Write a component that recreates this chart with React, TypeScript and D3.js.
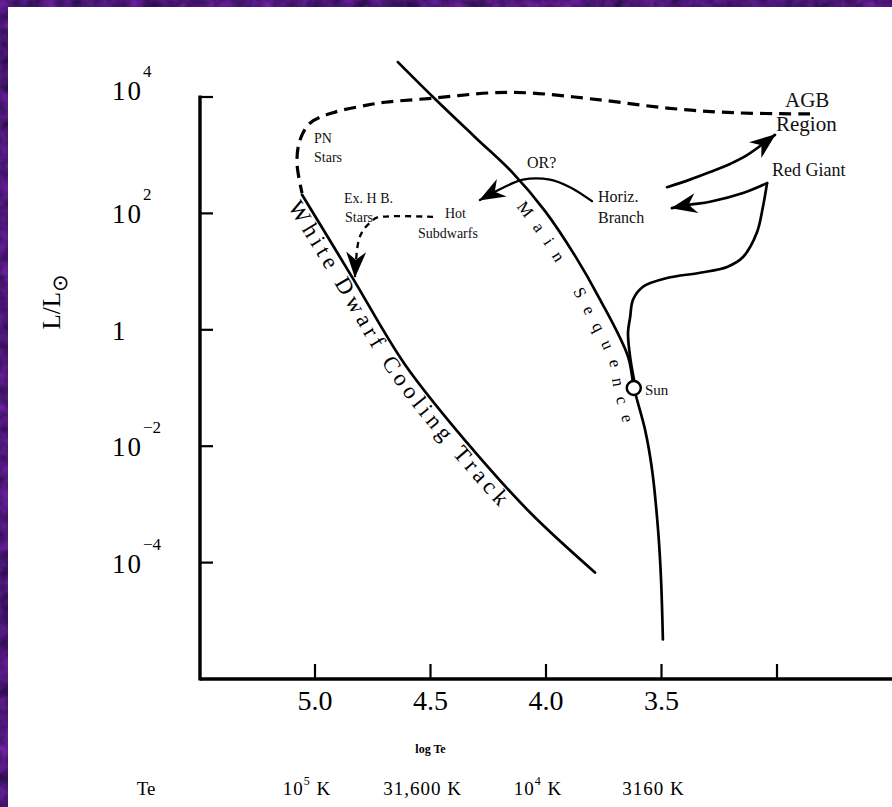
import * as d3 from "d3";

const W = 892;
const H = 807;

// axis ticks
const xTicks = [5.0, 4.5, 4.0, 3.5, 3.0];
const xTickLabels = ["5.0", "4.5", "4.0", "3.5", ""];
const teBase = ["10", "31,600", "10", "3160"];
const teExp = ["5", "", "4", ""];
const yTicks = [1e4, 1e2, 1, 1e-2, 1e-4];
const yTickBase = ["10", "10", "1", "10", "10"];
const yTickExp = ["4", "2", "", "\u22122", "\u22124"];

// curves: log Te, log L/Lsun
const msTe = [4.641, 4.489, 4.307, 4.147, 4.004, 3.874, 3.766, 3.645, 3.619, 3.571, 3.541, 3.515, 3.502, 3.494];
const msL = [4.6, 4.0, 3.31, 2.71, 2.04, 1.27, 0.52, -0.46, -1.0, -1.72, -2.4, -3.43, -4.29, -5.32];

const rgTe = [3.619, 3.636, 3.645, 3.636, 3.623, 3.58, 3.476, 3.333, 3.216, 3.147, 3.087, 3.061, 3.043];
const rgL = [-0.86, -0.46, -0.05, 0.21, 0.52, 0.74, 0.89, 0.98, 1.08, 1.25, 1.67, 2.11, 2.52];

const hbTe = [3.043, 3.147, 3.29, 3.377, 3.455];
const hbL = [2.52, 2.35, 2.2, 2.15, 2.09];

const agbTe = [3.476, 3.377, 3.29, 3.203, 3.13, 3.009];
const agbL = [2.45, 2.58, 2.71, 2.85, 3.0, 3.35];

const orTe = [3.801, 3.896, 3.983, 4.1, 4.186, 4.286];
const orL = [2.21, 2.45, 2.58, 2.58, 2.44, 2.23];

const exhbTe = [4.489, 4.73, 4.753, 4.784, 4.81, 4.827];
const exhbL = [1.94, 1.93, 1.87, 1.75, 1.55, 0.91];

const wdTe = [5.056, 4.84, 4.61, 4.342, 4.069, 3.788];
const wdL = [2.32, 0.91, -0.6, -1.94, -3.14, -4.17];

const pnTe = [2.857, 3.19, 3.476, 3.766, 4.069, 4.242, 4.489, 4.697, 4.775, 4.922, 5.022, 5.065, 5.078, 5.056];
const pnL = [3.71, 3.73, 3.81, 3.95, 4.07, 4.07, 3.98, 3.91, 3.86, 3.73, 3.55, 3.26, 2.87, 2.35];

const sunTe = 3.62;
const sunL = -1.0;

// words set along the tracks, with their distance along the path
const wdWords = ["White", "Dwarf", "Cooling", "Track"];
const wdWordAt = [3, 92, 184, 300];
const msWords = ["Main", "Sequence"];
const msWordAt = [186, 288];

const x = d3.scaleLinear().domain([5.0, 3.0]).range([315, 777]);
const y = d3.scaleLog().domain([1e-6, 1e4]).range([679, 97]);

const toPx = (te: number[], l: number[]): [number, number][] =>
  te.map((t, i) => [x(t), y(10 ** l[i])]);

const line = d3
  .line<[number, number]>()
  .x((d) => d[0])
  .y((d) => d[1])
  .curve(d3.curveCatmullRom.alpha(0.5));

// shift a pixel polyline to its lower-left side, for text labels
const offset = (pts: [number, number][], dist: number): [number, number][] =>
  pts.map((p, i) => {
    const a = pts[Math.max(0, i - 1)];
    const b = pts[Math.min(pts.length - 1, i + 1)];
    const dx = b[0] - a[0];
    const dy = b[1] - a[1];
    const len = Math.hypot(dx, dy);
    return [p[0] - (dy / len) * dist, p[1] + (dx / len) * dist];
  });

const serif = "'Liberation Serif', 'DejaVu Serif', serif";

export default function App() {
  const ms = toPx(msTe, msL);
  const wd = toPx(wdTe, wdL);
  const left = x.range()[0] - 115;
  return (
    <svg
      width={W}
      height={H}
      style={{ position: "absolute", left: 0, top: 0, display: "block" }}
      fontFamily={serif}
    >
      <defs>
        <filter id="tex" x="0" y="0" width="100%" height="100%" colorInterpolationFilters="sRGB">
          <feTurbulence type="fractalNoise" baseFrequency="0.07" numOctaves={3} seed={4} />
          <feColorMatrix
            type="matrix"
            values="0.4 0 0 0 0.1  0.12 0 0 0 0.03  0.5 0 0 0 0.22  0 0 0 0 1"
          />
        </filter>
        <marker
          id="arr"
          markerUnits="userSpaceOnUse"
          viewBox="-28 -12 30 24"
          markerWidth={30}
          markerHeight={24}
          refX={0}
          refY={0}
          orient="auto"
        >
          <path d="M1,0 L-25,-10 L-17,0 L-25,10 Z" fill="#000" />
        </marker>
        <path id="wdText" d={line(offset(wd, 18.5)) ?? ""} fill="none" />
        <path id="msText" d={line(offset(ms, 20)) ?? ""} fill="none" />
      </defs>

      <rect width={W} height={H} filter="url(#tex)" />
      <rect x={8} y={7} width={W - 8} height={H - 7} fill="#fff" />

      {/* axes */}
      <g stroke="#000" fill="none">
        <line x1={left} x2={left} y1={y(1e4) - 1.5} y2={y(1e-6) + 1.5} strokeWidth={3.4} />
        <line x1={left} x2={W} y1={y(1e-6)} y2={y(1e-6)} strokeWidth={3.4} />
        {yTicks.map((t) => (
          <line key={t} x1={left} x2={left + 13} y1={y(t)} y2={y(t)} strokeWidth={2.2} />
        ))}
        {xTicks.map((t) => (
          <line key={t} x1={x(t)} x2={x(t)} y1={y(1e-6)} y2={y(1e-6) - 15} strokeWidth={2.2} />
        ))}
      </g>

      {yTicks.map((t, i) => (
        <text key={t} x={112} y={y(t) + (i === 0 ? 3 : 10)} fontSize={27} letterSpacing={2}>
          {yTickBase[i]}
          {yTickExp[i] && (
            <tspan dy={-23} fontSize={17} letterSpacing={0}>
              {yTickExp[i]}
            </tspan>
          )}
        </text>
      ))}

      <text transform="translate(60,302) rotate(-90)" fontSize={25} textAnchor="middle">
        L/L
        <tspan dy={7} fontSize={21} fontFamily="'DejaVu Sans'">
          {"\u2299"}
        </tspan>
      </text>

      {xTicks.map((t, i) => (
        <text key={t} x={x(t)} y={710} fontSize={28} textAnchor="middle">
          {xTickLabels[i]}
        </text>
      ))}
      <text x={x(4.5)} y={753} fontSize={12} fontWeight="bold" textAnchor="middle">
        log Te
      </text>
      <text x={146} y={795} fontSize={19} textAnchor="middle">
        Te
      </text>
      {teBase.map((b, i) => (
        <text
          key={i}
          x={x(xTicks[i]) - 8}
          y={795}
          fontSize={19}
          textAnchor="middle"
          letterSpacing={1}
        >
          {b}
          {teExp[i] && (
            <tspan dy={-10} fontSize={12}>
              {teExp[i]}
            </tspan>
          )}
          <tspan dy={teExp[i] ? 10 : 0}> K</tspan>
        </text>
      ))}

      {/* tracks */}
      <g fill="none" stroke="#000" strokeLinecap="round">
        <path d={line(ms) ?? ""} strokeWidth={2.7} />
        <path d={line(wd) ?? ""} strokeWidth={2.7} />
        <path d={line(toPx(rgTe, rgL)) ?? ""} strokeWidth={2.7} />
        <path d={line(toPx(pnTe, pnL)) ?? ""} strokeWidth={3.2} strokeDasharray="12 7" strokeLinecap="butt" />
        <path d={line(toPx(hbTe, hbL)) ?? ""} strokeWidth={2.7} markerEnd="url(#arr)" />
        <path d={line(toPx(agbTe, agbL)) ?? ""} strokeWidth={2.7} markerEnd="url(#arr)" />
        <path d={line(toPx(orTe, orL)) ?? ""} strokeWidth={2.3} markerEnd="url(#arr)" />
        <path
          d={line(toPx(exhbTe, exhbL)) ?? ""}
          strokeWidth={2.3}
          strokeDasharray="6 5"
          strokeLinecap="butt"
          markerEnd="url(#arr)"
        />
      </g>
      <circle cx={x(sunTe)} cy={y(10 ** sunL)} r={7} fill="#fff" stroke="#000" strokeWidth={2.5} />

      {/* labels */}
      <g fontSize={14} fill="#111">
        <text x={314} y={143}>PN</text>
        <text x={314} y={162}>Stars</text>
        <text x={344} y={203}>Ex. H B.</text>
        <text x={345} y={222}>Stars</text>
        <text x={445} y={218}>Hot</text>
        <text x={418} y={238}>Subdwarfs</text>
        <text x={527} y={168} fontSize={16}>OR?</text>
        <text x={598} y={202} fontSize={16}>Horiz.</text>
        <text x={598} y={223} fontSize={16}>Branch</text>
        <text x={772} y={176} fontSize={18}>Red Giant</text>
        <text x={645} y={395} fontSize={15}>Sun</text>
        <text x={785} y={107} fontSize={21}>AGB</text>
        <text x={776} y={131} fontSize={21}>Region</text>
      </g>

      {wdWords.map((w, i) => (
        <text key={w} fontSize={23} letterSpacing={4.5}>
          <textPath href="#wdText" startOffset={wdWordAt[i]}>
            {w}
          </textPath>
        </text>
      ))}
      {msWords.map((w, i) => (
        <text key={w} fontSize={17} letterSpacing={11}>
          <textPath href="#msText" startOffset={msWordAt[i]}>
            {w}
          </textPath>
        </text>
      ))}
    </svg>
  );
}
